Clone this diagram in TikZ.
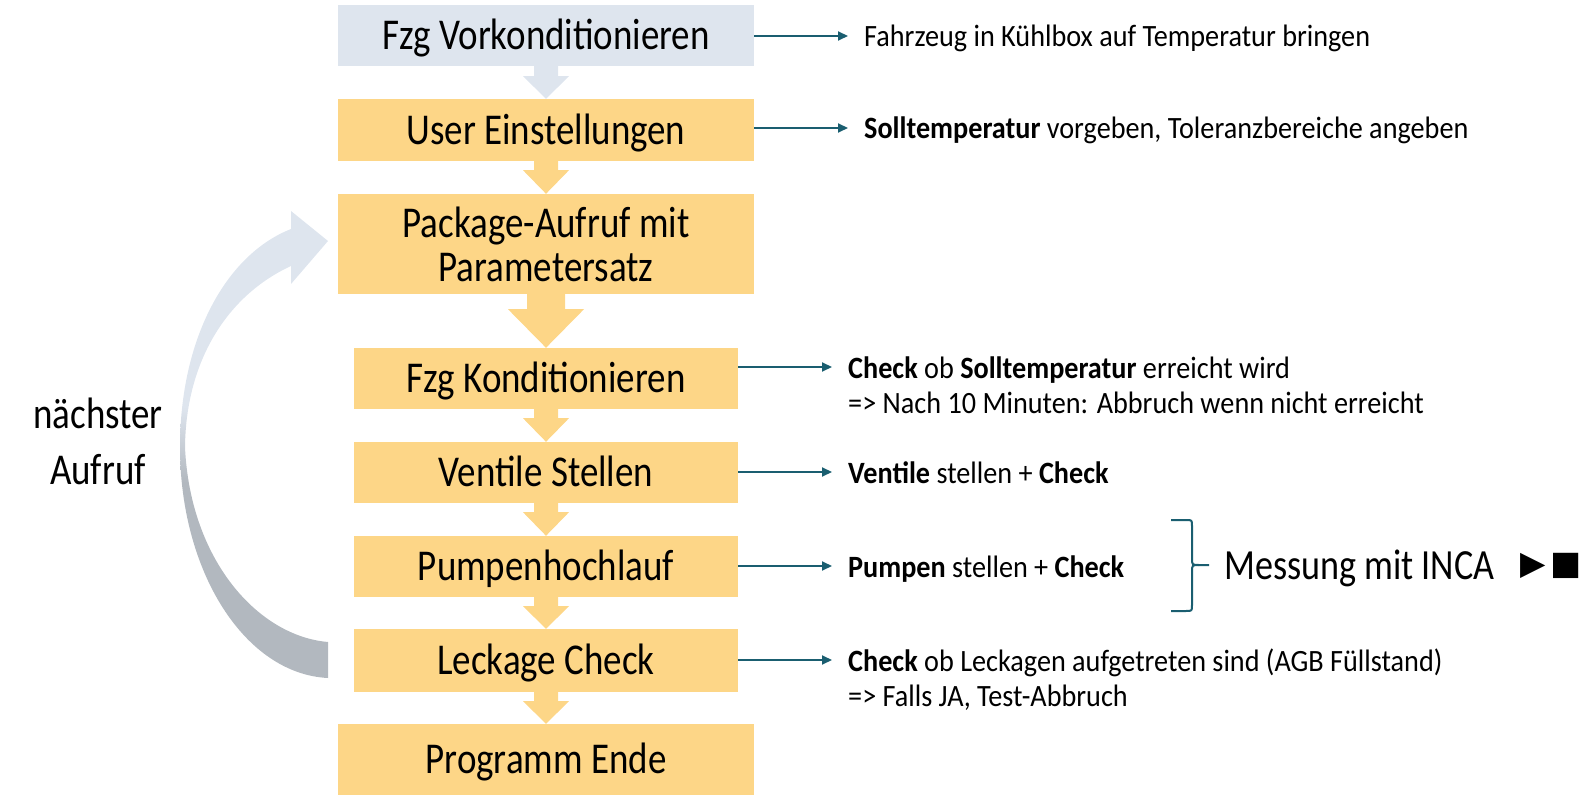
\documentclass[tikz,border=0pt]{standalone}
\usepackage{fontspec}
\setmainfont{Carlito}[FakeStretch=0.84]
\newfontfamily\rfam{Carlito}[FakeStretch=0.91]
\newfontfamily\symfont{DejaVu Sans}
\usetikzlibrary{arrows.meta,calc}
\definecolor{boxyellow}{HTML}{FDD687}
\definecolor{boxblue}{HTML}{DEE5EE}
\definecolor{tealc}{HTML}{1A5E70}
\definecolor{loopgray}{HTML}{B2B8BF}
\pgfdeclareverticalshading{loopshade}{100bp}{color(0bp)=(loopgray); color(46bp)=(loopgray); color(54bp)=(boxblue); color(100bp)=(boxblue)}
\newcommand\boxfont{\fontsize{44}{44}\selectfont}
\newcommand\rfont{\rfam\fontsize{31}{35}\selectfont}
\newcommand\blockarr[6]{%
  \fill[#6] ($(#1.south)+(-#3,0)$) -- ($(#1.south)+(#3,0)$) -- ($(#1.south)+(#3,#4)$) -- ($(#1.south)+(#5,#4)$) -- (#2.north) -- ($(#1.south)+(-#5,#4)$) -- ($(#1.south)+(-#3,#4)$) -- cycle;}
\tikzset{
  box/.style={fill=boxyellow, minimum width=384pt, minimum height=61pt, inner sep=0pt, font=\boxfont, align=center, text height=28.5pt, text depth=0pt},
  widebox/.style={box, minimum width=416pt},
  rtext/.style={anchor=west, font=\rfont, inner sep=0pt, text height=32pt, text depth=10pt},
  conn/.style={draw=tealc, line width=2pt, -{Triangle[length=10pt,width=9pt]}},
}
\begin{document}
\begin{tikzpicture}[x=1pt,y=-1pt]
\useasboundingbox (0,0) rectangle (1580,802);
% loop arrow
\path[shading=loopshade] (291,229) .. controls (225,255) and (180,340) .. (180,447)
  .. controls (180,572) and (245,674) .. (328,678) -- (328,642)
  .. controls (258,636) and (190,560) .. (185,447)
  .. controls (186,360) and (228,295) .. (291,266) -- (291,284) -- (328,241) -- (291,211) -- cycle;
\node[font=\boxfont, align=center] (loop) at (98,441) {nächster\\[12pt]Aufruf};
% boxes
\node[widebox, fill=boxblue] (b1) at (546,35.5) {Fzg Vorkonditionieren};
\node[widebox, minimum height=62pt] (b2) at (546,130) {User Einstellungen};
\node[widebox, minimum height=100pt, text height=75pt] (b3) at (546,244) {Package-Aufruf mit\\Parametersatz};
\node[box] (b4) at (546,378.5) {Fzg Konditionieren};
\node[box] (b5) at (546,472.5) {Ventile Stellen};
\node[box] (b6) at (546,566.5) {Pumpenhochlauf};
\node[box, minimum height=63pt] (b7) at (546,660.5) {Leckage Check};
\node[widebox, minimum height=71pt] (b8) at (546,759.5) {Programm Ende};
% block arrows
\blockarr{b1}{b2}{12}{10}{23}{boxblue}
\blockarr{b2}{b3}{12}{9}{23}{boxyellow}
\blockarr{b3}{b4}{19}{15}{38}{boxyellow}
\blockarr{b4}{b5}{12}{9}{23}{boxyellow}
\blockarr{b5}{b6}{12}{9}{23}{boxyellow}
\blockarr{b6}{b7}{12}{9}{23}{boxyellow}
\blockarr{b7}{b8}{12}{9}{23}{boxyellow}
% right texts
\node[rtext] (t1) at (864,36) {Fahrzeug in Kühlbox auf Temperatur bringen};
\node[rtext] (t2) at (864,128) {\textbf{Solltemperatur} vorgeben, Toleranzbereiche angeben};
\node[rtext] (t4) at (848,367) {\textbf{Check} ob \textbf{Solltemperatur} erreicht wird};
\node[rtext] (t4b) at (848,402) {=> Nach 10 Minuten: Abbruch wenn nicht erreicht};
\node[rtext] (t5) at (848,472) {\textbf{Ventile} stellen + \textbf{Check}};
\node[rtext] (t6) at (848,566) {\textbf{Pumpen} stellen + \textbf{Check}};
\node[rtext] (t7) at (848,660) {\textbf{Check} ob Leckagen aufgetreten sind (AGB Füllstand)};
\node[rtext] (t7b) at (848,695) {=> Falls JA, Test-Abbruch};
\foreach \b/\t in {b1/t1,b2/t2,b4/t4,b5/t5,b6/t6,b7/t7}
  \draw[conn] (\b.east |- \t.west) -- ([xshift=-16pt]\t.west);
% brace and measurement
\draw[tealc, line width=2pt] (1171,520) -- (1186,520) .. controls (1192,520) .. (1192,526) -- (1192,558)
  .. controls (1192,565) .. (1199,565) -- (1209,565);
\draw[tealc, line width=2pt] (1199,565) .. controls (1192,565) .. (1192,572) -- (1192,605)
  .. controls (1192,611) .. (1186,611) -- (1171,611);
\node[anchor=west, font=\fontsize{43}{44}\selectfont, inner sep=0pt, text height=28pt, text depth=2pt] (m) at (1224,566) {Messung mit INCA};
\node[anchor=west, font=\symfont\fontsize{33}{33}\selectfont, inner sep=0pt] (sym) at (1520,566) {▶\hspace{5pt}■};
\end{tikzpicture}
\end{document}
